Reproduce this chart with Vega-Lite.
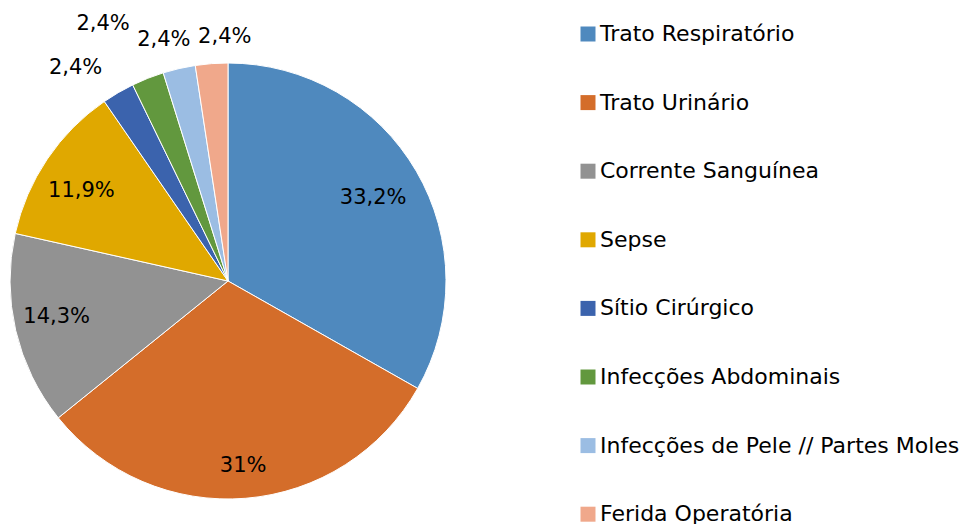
{
  "$schema": "https://vega.github.io/schema/vega-lite/v6.json",
  "autosize": "none",
  "width": 456,
  "height": 486,
  "padding": {"left": 0, "top": 38, "right": 507, "bottom": 0},
  "background": "white",
  "config": {"view": {"stroke": null}, "font": "DejaVu Sans"},
  "data": {
    "values": [
      {"idx": 1, "category": "Trato Respiratório", "value": 33.2, "label": "33,2%"},
      {"idx": 2, "category": "Trato Urinário", "value": 31.0, "label": "31%"},
      {"idx": 3, "category": "Corrente Sanguínea", "value": 14.3, "label": "14,3%"},
      {"idx": 4, "category": "Sepse", "value": 11.9, "label": "11,9%"},
      {"idx": 5, "category": "Sítio Cirúrgico", "value": 2.4, "label": "2,4%"},
      {"idx": 6, "category": "Infecções Abdominais", "value": 2.4, "label": "2,4%"},
      {"idx": 7, "category": "Infecções de Pele // Partes Moles", "value": 2.4, "label": "2,4%"},
      {"idx": 8, "category": "Ferida Operatória", "value": 2.4, "label": "2,4%"}
    ]
  },
  "encoding": {
    "theta": {"field": "value", "type": "quantitative", "stack": true},
    "order": {"field": "idx", "type": "quantitative"}
  },
  "layer": [
    {
      "mark": {"type": "arc", "radius": 218, "stroke": "white", "strokeWidth": 1},
      "encoding": {
        "color": {
          "field": "category",
          "type": "nominal",
          "sort": ["Trato Respiratório", "Trato Urinário", "Corrente Sanguínea", "Sepse", "Sítio Cirúrgico", "Infecções Abdominais", "Infecções de Pele // Partes Moles", "Ferida Operatória"],
          "scale": {
            "domain": ["Trato Respiratório", "Trato Urinário", "Corrente Sanguínea", "Sepse", "Sítio Cirúrgico", "Infecções Abdominais", "Infecções de Pele // Partes Moles", "Ferida Operatória"],
            "range": ["#4F89BE", "#D46D2A", "#929292", "#E0A800", "#3B63AD", "#62983E", "#9BBDE3", "#F0A88B"]
          },
          "legend": {
            "orient": "none",
            "legendX": 577,
            "legendY": -15,
            "title": null,
            "padding": 0,
            "symbolType": "square",
            "symbolSize": 225,
            "symbolStrokeWidth": 0,
            "symbolOpacity": 1,
            "labelFont": "DejaVu Sans",
            "labelFontSize": 22,
            "labelColor": "#000000",
            "labelOffset": 1,
            "labelLimit": 400,
            "rowPadding": 46.6
          }
        }
      }
    },
    {
      "mark": {"type": "text", "radius": 168, "dy": 2, "fontSize": 21, "font": "DejaVu Sans", "color": "#000000"},
      "encoding": {"text": {"condition": {"test": "datum.idx == 1", "field": "label"}, "value": ""}}
    },
    {
      "mark": {"type": "text", "radius": 186, "fontSize": 21, "font": "DejaVu Sans", "color": "#000000"},
      "encoding": {"text": {"condition": {"test": "datum.idx == 2", "field": "label"}, "value": ""}}
    },
    {
      "mark": {"type": "text", "radius": 180, "dx": 4, "dy": -5, "fontSize": 21, "font": "DejaVu Sans", "color": "#000000"},
      "encoding": {"text": {"condition": {"test": "datum.idx == 3", "field": "label"}, "value": ""}}
    },
    {
      "mark": {"type": "text", "radius": 172, "dx": -4, "dy": 6, "fontSize": 21, "font": "DejaVu Sans", "color": "#000000"},
      "encoding": {"text": {"condition": {"test": "datum.idx == 4", "field": "label"}, "value": ""}}
    },
    {
      "mark": {"type": "text", "radius": 255, "dx": -24, "dy": 7, "fontSize": 21, "font": "DejaVu Sans", "color": "#000000"},
      "encoding": {"text": {"condition": {"test": "datum.idx == 5", "field": "label"}, "value": ""}}
    },
    {
      "mark": {"type": "text", "radius": 255, "dx": -31, "dy": -20, "fontSize": 21, "font": "DejaVu Sans", "color": "#000000"},
      "encoding": {"text": {"condition": {"test": "datum.idx == 6", "field": "label"}, "value": ""}}
    },
    {
      "mark": {"type": "text", "radius": 255, "dx": -7, "dy": 8, "fontSize": 21, "font": "DejaVu Sans", "color": "#000000"},
      "encoding": {"text": {"condition": {"test": "datum.idx == 7", "field": "label"}, "value": ""}}
    },
    {
      "mark": {"type": "text", "radius": 255, "dx": 16, "dy": 10, "fontSize": 21, "font": "DejaVu Sans", "color": "#000000"},
      "encoding": {"text": {"condition": {"test": "datum.idx == 8", "field": "label"}, "value": ""}}
    }
  ]
}
